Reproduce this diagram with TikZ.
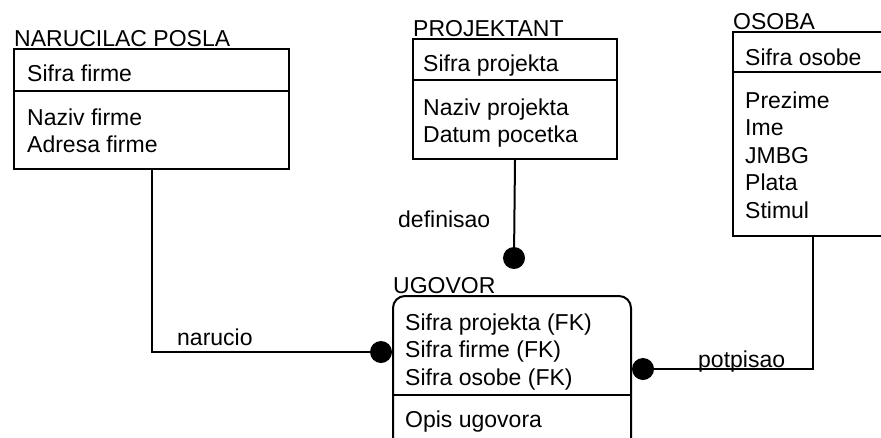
\documentclass[tikz,border=0pt]{standalone}
\usepackage{fontspec}
\setmainfont{Liberation Sans}
\usetikzlibrary{positioning}

\begin{document}
\begin{tikzpicture}[
      x=1pt, y=-1pt,
      every node/.append style={font=\fontsize{23}{27.5}\selectfont},
      entity/.style={rectangle, draw, line width=2pt, anchor=north west,
                     inner sep=0pt},
      assoc/.style={entity, rounded corners=12pt},
      attr/.style={anchor=base west, inner sep=0pt},
      title/.style={attr},
      dot/.style={circle, fill, inner sep=0pt, minimum size=22pt},
      link/.style={line width=2pt},
    ]
      \useasboundingbox (0,0) rectangle (881,437);
      \fill[white] (0,0) rectangle (881,437);
      \clip (0,0) rectangle (881,437);

      % entities
      \node[entity, minimum width=275pt, minimum height=120pt] (narucilac) at (13,48) {};
      \node[entity, minimum width=204pt, minimum height=120pt] (projektant) at (412,38) {};
      \node[entity, minimum width=160pt, minimum height=204pt] (osoba) at (732,31) {};
      \node[assoc, minimum width=238pt, minimum height=170pt] (ugovor) at (392,295) {};

      \node[title] (narucilacT) at (14,46.5) {NARUCILAC POSLA};
      \node[title] (projektantT) at (413,36.5) {PROJEKTANT};
      \node[title] (osobaT) at (733,29.5) {OSOBA};
      \node[title] (ugovorT) at (393,293.5) {UGOVOR};

      % keys
      \draw[link] (narucilac.west |- 0,91) -- (narucilac.east |- 0,91);
      \draw[link] (projektant.west |- 0,80) -- (projektant.east |- 0,80);
      \draw[link] (osoba.west |- 0,72) -- (osoba.east |- 0,72);
      \draw[link] (ugovor.west |- 0,395) -- (ugovor.east |- 0,395);

      \node[attr] (nSifra) at (27,81) {Sifra firme};
      \node[attr] (nNaziv) at (27,125) {Naziv firme};
      \node[attr] (nAdresa) at (27,152.5) {Adresa firme};

      \node[attr] (pSifra) at (423,71) {Sifra projekta};
      \node[attr] (pNaziv) at (423,115) {Naziv projekta};
      \node[attr] (pDatum) at (423,142.5) {Datum pocetka};

      \node[attr] (oSifra) at (745,65) {Sifra osobe};
      \node[attr] (oPrezime) at (745,108) {Prezime};
      \node[attr] (oIme) at (745,135.5) {Ime};
      \node[attr] (oJmbg) at (745,163) {JMBG};
      \node[attr] (oPlata) at (745,190.5) {Plata};
      \node[attr] (oStimul) at (745,218) {Stimul};

      \node[attr] (uProjekat) at (405,330) {Sifra projekta (FK)};
      \node[attr] (uFirma) at (405,357.5) {Sifra firme (FK)};
      \node[attr] (uOsoba) at (405,385) {Sifra osobe (FK)};
      \node[attr] (uOpis) at (405,427) {Opis ugovora};

      % relationships
      \node[dot] (narucioDot) at (381,352) {};
      \node[dot] (definisaoDot) at (514,258) {};
      \node[dot] (potpisaoDot) at (643,369) {};
      \draw[link] (narucilac.south) |- (narucioDot);
      \draw[link] (projektant.south) -- (definisaoDot);
      \draw[link] (osoba.south) |- (potpisaoDot);

      \node[attr] (narucioL) at (177,345) {narucio};
      \node[attr] (definisaoL) at (398,227) {definisao};
      \node[attr] (potpisaoL) at (698,367) {potpisao};
    \end{tikzpicture}
\end{document}
